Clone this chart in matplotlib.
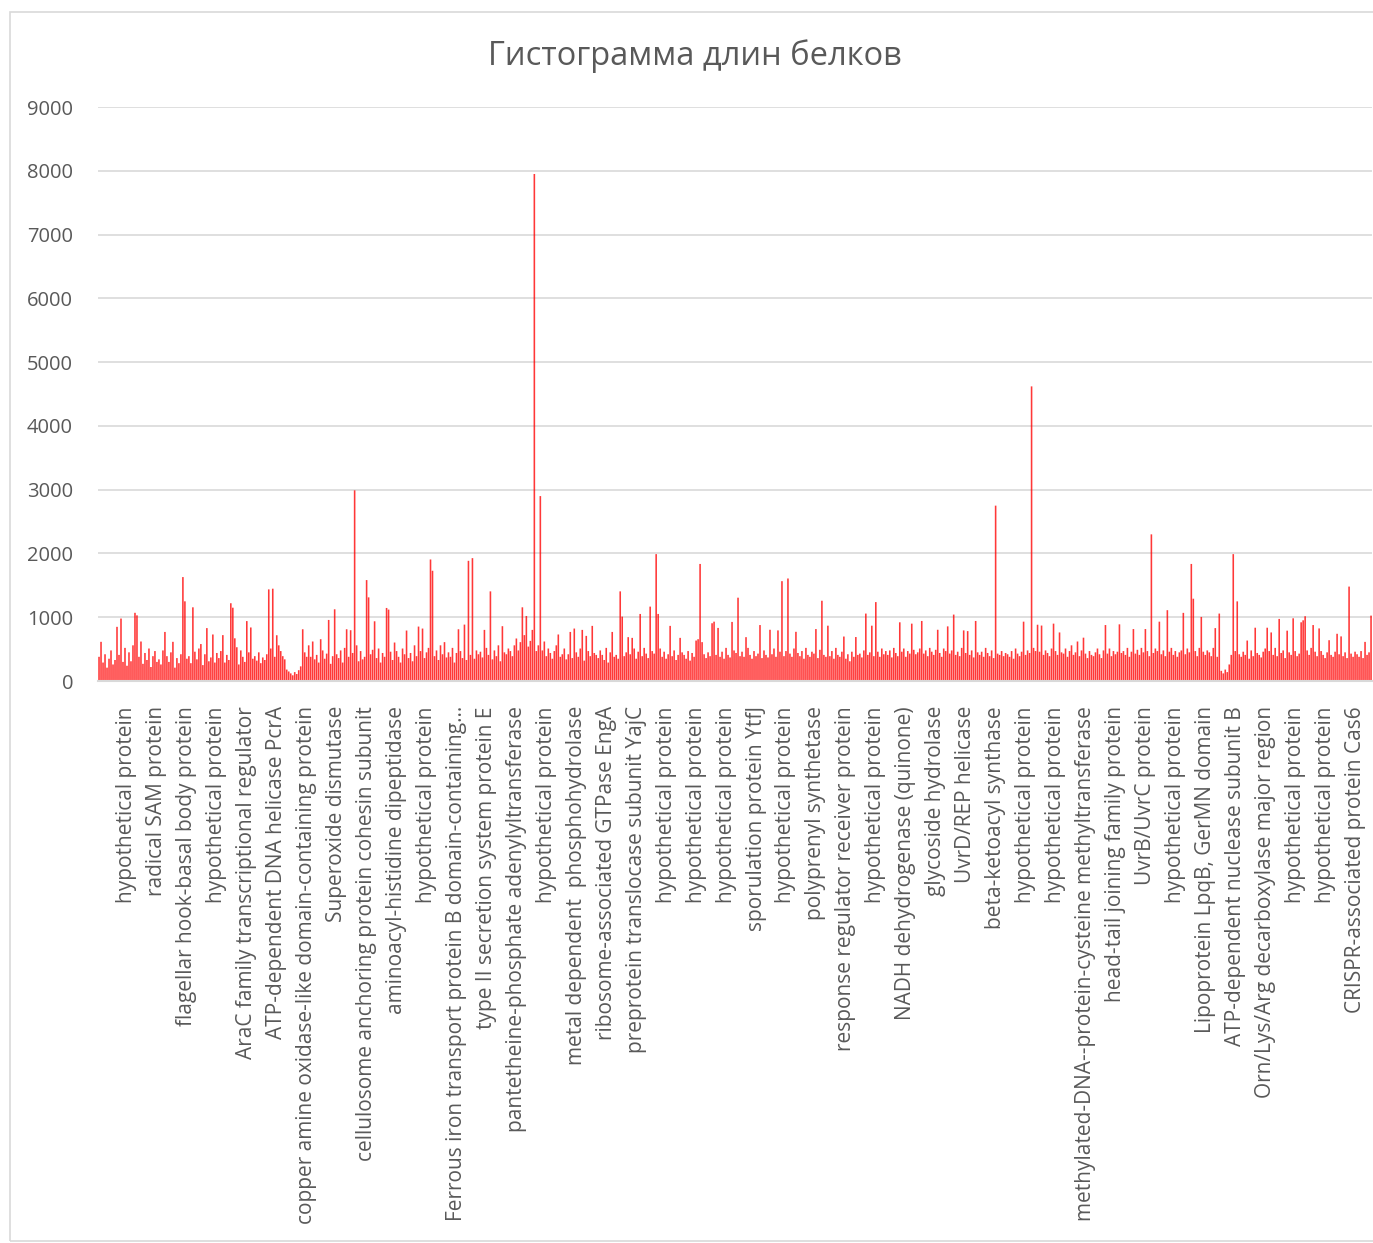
import matplotlib
matplotlib.use("Agg")
import matplotlib.pyplot as plt
from matplotlib.patches import Rectangle
import numpy as np

# protein lengths, in genome order (15 per row)
lengths_1 = [
    380, 615, 290, 420, 210, 350, 480, 260, 330, 850, 410, 980, 300, 520, 240,
    450, 310, 560, 1070, 1030, 380, 620, 270, 440, 330, 510, 220, 390, 470, 300,
    340, 260, 480, 770, 390, 300, 450, 615, 210, 360, 280, 420, 1630, 1250, 350,
    390, 280, 1156, 460, 340, 510, 580, 250, 420, 830, 310, 370, 730, 290, 440,
    360, 470, 720, 290, 410, 330, 1220, 1150, 670, 530, 260, 480, 380, 300, 940,
    450, 840, 350, 390, 320, 450, 280, 370, 330, 420, 1437, 510, 1448, 380, 718,
    560, 470, 390, 340, 180, 150, 120, 90, 140, 110, 170, 230, 812, 450, 380,
    560, 380, 620, 340, 410, 290, 656, 480, 350, 430, 958, 270, 390, 1125, 420,
    360, 480, 290, 520, 812, 380, 797, 440, 2990, 560, 310, 470, 340, 380, 1583,
    1312, 420, 490, 937, 360, 510, 290, 440, 380, 1146, 1120, 460, 330, 604, 470,
    380, 290, 510, 420, 792, 360, 440, 310, 560, 390, 854, 470, 823, 360, 450,
    520, 1906, 1729, 390, 480, 330, 560, 420, 610, 370, 450, 380, 520, 290, 440,
    812, 470, 360, 885, 330, 1885, 410, 1927, 350, 480, 420, 460, 370, 802, 520,
    410, 1406, 340, 480, 390, 560, 310, 860, 450, 420, 510, 470, 390, 560, 667,
]
lengths_2 = [
    480, 610, 1156, 720, 1020, 540, 630, 802, 7950, 470, 560, 2900, 480, 620, 390,
    510, 440, 350, 470, 560, 730, 380, 420, 510, 340, 420, 770, 360, 823, 450,
    380, 510, 802, 320, 708, 470, 390, 865, 440, 410, 360, 480, 410, 330, 520,
    290, 450, 770, 380, 410, 350, 1406, 1010, 390, 450, 688, 420, 677, 510, 350,
    460, 1052, 390, 520, 430, 360, 1167, 470, 430, 1990, 1052, 510, 380, 460, 350,
    420, 865, 390, 480, 330, 410, 677, 450, 410, 350, 470, 320, 440, 380, 635,
    656, 1836, 610, 420, 360, 450, 390, 906, 931, 410, 833, 380, 460, 350, 520,
    410, 370, 927, 480, 440, 1307, 390, 460, 380, 688, 520, 410, 350, 470, 390,
    430, 878, 360, 480, 410, 370, 804, 420, 510, 380, 794, 460, 1566, 390, 470,
    1608, 430, 380, 510, 772, 440, 390, 470, 350, 520, 410, 380, 460, 430, 815,
    360, 490, 1259, 410, 380, 868, 390, 470, 350, 520, 410, 380, 460, 698, 350,
    420, 310, 460, 380, 690, 410, 430, 370, 480, 1058, 410, 450, 868, 390, 1238,
    460, 380, 510, 420, 470, 410, 480, 370, 520, 440, 390, 921, 460, 510, 380,
    470, 430, 900, 490, 420, 450, 510, 942, 430, 480, 390, 520, 460, 410, 490,
]
lengths_3 = [
    804, 440, 380, 510, 470, 857, 430, 480, 1042, 410, 460, 390, 520, 794, 440,
    783, 410, 480, 370, 942, 450, 410, 460, 380, 520, 440, 390, 480, 360, 2750,
    430, 410, 470, 390, 440, 420, 380, 470, 350, 510, 430, 390, 460, 931, 410,
    480, 440, 4620, 520, 470, 883, 460, 870, 410, 480, 440, 390, 510, 900, 470,
    410, 762, 450, 430, 510, 380, 470, 560, 410, 450, 620, 390, 480, 680, 430,
    360, 470, 410, 390, 450, 510, 420, 360, 480, 878, 430, 510, 390, 470, 420,
    460, 889, 440, 470, 410, 520, 380, 460, 815, 430, 490, 410, 520, 450, 815,
    470, 390, 2300, 440, 510, 470, 931, 420, 480, 390, 1111, 460, 520, 410, 470,
    380, 450, 480, 1069, 420, 510, 450, 1836, 1291, 470, 390, 520, 1005, 460, 410,
    480, 450, 390, 520, 830, 380, 1058, 160, 120, 180, 140, 260, 410, 1990, 470,
    1249, 420, 380, 460, 410, 635, 350, 480, 390, 836, 440, 410, 370, 460, 510,
    836, 470, 762, 410, 520, 390, 974, 440, 480, 360, 790, 450, 410, 984, 470,
    390, 430, 921, 952, 1016, 480, 410, 520, 878, 460, 390, 825, 470, 410, 360,
    450, 640, 410, 380, 460, 741, 420, 700, 390, 450, 360, 1481, 430, 380, 460,
    420, 380, 470, 360, 614, 410, 450, 1026,
]
lengths = lengths_1 + lengths_2 + lengths_3

# every 15th protein gets its name shown on the axis
label_step = 15
names = [
    "hypothetical protein", "radical SAM protein",
    "flagellar hook-basal body protein", "hypothetical protein",
    "AraC family transcriptional regulator", "ATP-dependent DNA helicase PcrA",
    "copper amine oxidase-like domain-containing protein", "Superoxide dismutase",
    "cellulosome anchoring protein cohesin subunit", "aminoacyl-histidine dipeptidase",
    "hypothetical protein", "Ferrous iron transport protein B domain-containing...",
    "type II secretion system protein E", "pantetheine-phosphate adenylyltransferase",
    "hypothetical protein", "metal dependent  phosphohydrolase",
    "ribosome-associated GTPase EngA", "preprotein translocase subunit YajC",
    "hypothetical protein", "hypothetical protein", "hypothetical protein",
    "sporulation protein YtfJ", "hypothetical protein", "polyprenyl synthetase",
    "response regulator receiver protein", "hypothetical protein",
    "NADH dehydrogenase (quinone)", "glycoside hydrolase", "UvrD/REP helicase",
    "beta-ketoacyl synthase", "hypothetical protein", "hypothetical protein",
    "methylated-DNA--protein-cysteine methyltransferase",
    "head-tail joining family protein", "UvrB/UvrC protein", "hypothetical protein",
    "Lipoprotein LpqB, GerMN domain", "ATP-dependent nuclease subunit B",
    "Orn/Lys/Arg decarboxylase major region", "hypothetical protein",
    "hypothetical protein", "CRISPR-associated protein Cas6",
]

plt.rcParams["font.family"] = ["Open Sans", "DejaVu Sans"]
grey = "#595959"

fig = plt.figure(figsize=(13.73, 12.43), dpi=100)
ax = fig.add_axes([0.0714, 0.4521, 0.9279, 0.4618])

x = np.arange(len(lengths))
bars = ax.bar(x, lengths, width=0.8, color="#ff0000", alpha=0.78,
              linewidth=0, zorder=2)
for b in bars:
    b.set_snap(False)

ax.set_xlim(-0.5, len(lengths) - 0.5)
ax.set_ylim(0, 9000)
ax.set_yticks(range(0, 9001, 1000))
ax.grid(axis="y", color="#d9d9d9", linewidth=1.2, zorder=0)
ax.set_axisbelow(True)
for s in ["top", "right", "left"]:
    ax.spines[s].set_visible(False)
ax.spines["bottom"].set_color("#d9d9d9")
ax.spines["bottom"].set_linewidth(1.5)

ticks = [label_step * (i + 1) - 1 for i in range(len(names))]
ax.set_xticks(ticks)
ax.set_xticklabels(names, rotation=90, ha="center", va="top")
ax.tick_params(axis="x", length=0, pad=18, labelsize=15, labelcolor=grey)
ax.tick_params(axis="y", length=0, pad=18, labelsize=14.5, labelcolor=grey)

fig.text(0.506, 0.955, "Гистограмма длин белков", ha="center", va="center",
         fontsize=23.5, color=grey)

# chart frame
fig.patches.append(Rectangle((0.0073, 0.002), 1.0, 0.9883, transform=fig.transFigure,
                             fill=False, edgecolor="#d9d9d9", linewidth=1.2))

fig.savefig("out.png", dpi=100)
